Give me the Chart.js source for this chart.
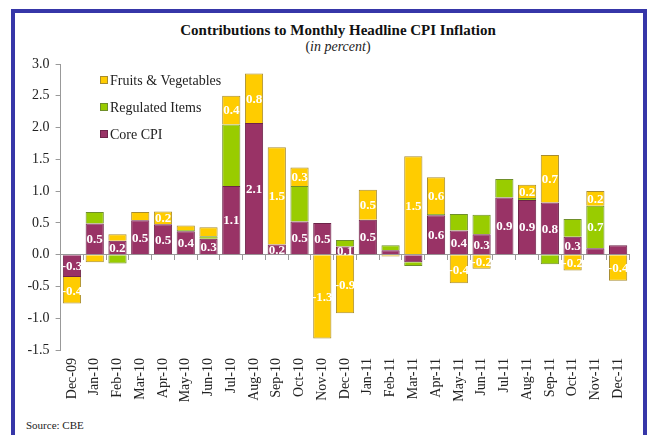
<!DOCTYPE html>
<html>
<head>
<meta charset="utf-8">
<script src="https://cdn.jsdelivr.net/npm/chart.js@4/dist/chart.umd.min.js"></script>
<style>
  body { margin: 0; background: #fff; }
  #wrap { position: relative; width: 649px; height: 435px; overflow: hidden; }
  #frame { position: absolute; left: 11px; top: 9px; width: 628px; height: 440px; border: 4px solid #3636a8; }
  #title { position: absolute; left: 0; width: 676px; top: 22px; text-align: center; font: bold 15px "Liberation Serif", serif; color: #111; }
  #subtitle { position: absolute; left: 0; width: 676px; top: 39px; text-align: center; font: 14px "Liberation Serif", serif; color: #222; }
  #source { position: absolute; left: 26px; top: 419px; font: 11px "Liberation Serif", serif; color: #222; }
  canvas { position: absolute; left: 0; top: 0; }
</style>
</head>
<body>
<div id="wrap">
  <div id="frame"></div>
  <div id="title">Contributions to Monthly Headline CPI Inflation</div>
  <div id="subtitle">(<i>in percent</i>)</div>
  <div id="source">Source: CBE</div>
  <canvas id="cpiChart" width="649" height="435"></canvas>
</div>
<script>
const months = ['Dec-09', 'Jan-10', 'Feb-10', 'Mar-10', 'Apr-10', 'May-10', 'Jun-10', 'Jul-10', 'Aug-10',
  'Sep-10', 'Oct-10', 'Nov-10', 'Dec-10', 'Jan-11', 'Feb-11', 'Mar-11', 'Apr-11', 'May-11', 'Jun-11',
  'Jul-11', 'Aug-11', 'Sep-11', 'Oct-11', 'Nov-11', 'Dec-11'];

const coreCpi = [-0.35, 0.49, 0.22, 0.54, 0.48, 0.37, 0.25, 1.08, 2.07, 0.16, 0.52, 0.50, 0.13,
  0.55, 0.07, -0.12, 0.62, 0.38, 0.32, 0.90, 0.86, 0.82, 0.28, 0.10, 0.15];
const regulatedItems = [0, 0.18, -0.14, 0, 0, 0.02, 0.04, 0.97, 0, 0, 0.56, 0, 0.10,
  0, 0.08, -0.06, 0.02, 0.26, 0.31, 0.29, 0.03, -0.15, 0.28, 0.67, 0];
const fruitsVeg = [-0.42, -0.12, 0.10, 0.13, 0.20, 0.07, 0.14, 0.45, 0.78, 1.53, 0.29, -1.32, -0.92,
  0.47, -0.03, 1.55, 0.58, -0.45, -0.22, 0, 0.21, 0.75, -0.25, 0.23, -0.41];

// value labels printed inside the bars ('' = none)
const coreLabels = ['-0.3', '0.5', '0.2', '0.5', '0.5', '0.4', '0.3', '1.1', '2.1', '0.2', '0.5', '0.5', '0.1',
  '0.5', '', '', '0.6', '0.4', '0.3', '0.9', '0.9', '0.8', '0.3', '', ''];
const regulatedLabels = ['', '', '', '', '', '', '', '', '', '', '', '', '',
  '', '', '', '', '', '', '', '', '', '', '0.7', ''];
const fruitsLabels = ['-0.4', '', '', '', '0.2', '', '', '0.4', '0.8', '1.5', '0.3', '-1.3', '-0.9',
  '0.5', '', '1.5', '0.6', '-0.4', '-0.2', '', '0.2', '0.7', '-0.2', '0.2', '-0.4'];

const yTicks = [-1.5, -1.0, -0.5, 0.0, 0.5, 1.0, 1.5, 2.0, 2.5, 3.0];

const serif = '"Liberation Serif", "Times New Roman", serif';

const barLabels = {
  id: 'barLabels',
  afterDatasetsDraw(chart) {
    const ctx = chart.ctx;
    ctx.save();
    ctx.font = 'bold 13px ' + serif;
    ctx.fillStyle = '#ffffff';
    ctx.textAlign = 'center';
    ctx.textBaseline = 'middle';
    chart.data.datasets.forEach((ds, i) => {
      const meta = chart.getDatasetMeta(i);
      meta.data.forEach((bar, j) => {
        const txt = ds.valueLabels[j];
        if (!txt) return;
        ctx.fillText(txt, bar.x, (bar.y + bar.base) / 2 + 1);
      });
    });
    ctx.restore();
  }
};

const insideLegend = {
  id: 'insideLegend',
  afterDraw(chart) {
    const ctx = chart.ctx;
    ctx.save();
    ctx.font = '14px ' + serif;
    ctx.textBaseline = 'middle';
    const list = chart.data.datasets.slice().reverse();
    list.forEach((ds, k) => {
      const y = 80 + k * 27;
      ctx.fillStyle = ds.backgroundColor;
      ctx.fillRect(100, y - 4, 8, 8);
      ctx.strokeStyle = ds.borderColor;
      ctx.lineWidth = 1;
      ctx.strokeRect(100.5, y - 3.5, 7, 7);
      ctx.fillStyle = '#222';
      ctx.fillText(ds.label, 110, y + 1);
    });
    ctx.restore();
  }
};

new Chart(document.getElementById('cpiChart'), {
  type: 'bar',
  data: {
    labels: months,
    datasets: [
      { label: 'Core CPI', data: coreCpi, valueLabels: coreLabels,
        backgroundColor: '#993366', borderColor: '#6d2449', borderWidth: 1 },
      { label: 'Regulated Items', data: regulatedItems, valueLabels: regulatedLabels,
        backgroundColor: '#99cc00', borderColor: '#6f8f2a', borderWidth: 1 },
      { label: 'Fruits & Vegetables', data: fruitsVeg, valueLabels: fruitsLabels,
        backgroundColor: '#ffcc00', borderColor: '#a88c2e', borderWidth: 1 }
    ]
  },
  plugins: [barLabels, insideLegend],
  options: {
    responsive: false,
    animation: false,
    layout: { padding: { top: 64, left: 0, right: 19.5, bottom: 30 } },
    datasets: { bar: { categoryPercentage: 1.0, barPercentage: 0.8 } },
    plugins: { legend: { display: false }, tooltip: { enabled: false } },
    scales: {
      x: {
        stacked: true,
        position: { y: 0 },
        offset: true,
        ticks: { display: false },
        grid: { drawOnChartArea: false, drawTicks: true, tickLength: 5, color: '#999', offset: true },
        border: { color: '#999' }
      },
      x2: {
        type: 'category',
        labels: months,
        position: 'bottom',
        offset: true,
        grid: { display: false },
        border: { display: false },
        ticks: { minRotation: 90, maxRotation: 90, autoSkip: false, padding: 0,
          color: '#222', font: { family: serif, size: 14 } },
        afterFit(scale) { scale.height = 55; }
      },
      y: {
        stacked: true,
        min: -1.5,
        max: 3.0,
        afterBuildTicks(scale) { scale.ticks = yTicks.map(v => ({ value: v })); },
        ticks: { color: '#222', padding: 6, font: { family: serif, size: 14 },
          callback: v => Number(v).toFixed(1) },
        grid: { drawOnChartArea: false, drawTicks: true, tickLength: 5, color: '#999' },
        border: { color: '#999' },
        afterFit(scale) { scale.width = 60.6; }
      }
    }
  }
});
</script>
</body>
</html>
